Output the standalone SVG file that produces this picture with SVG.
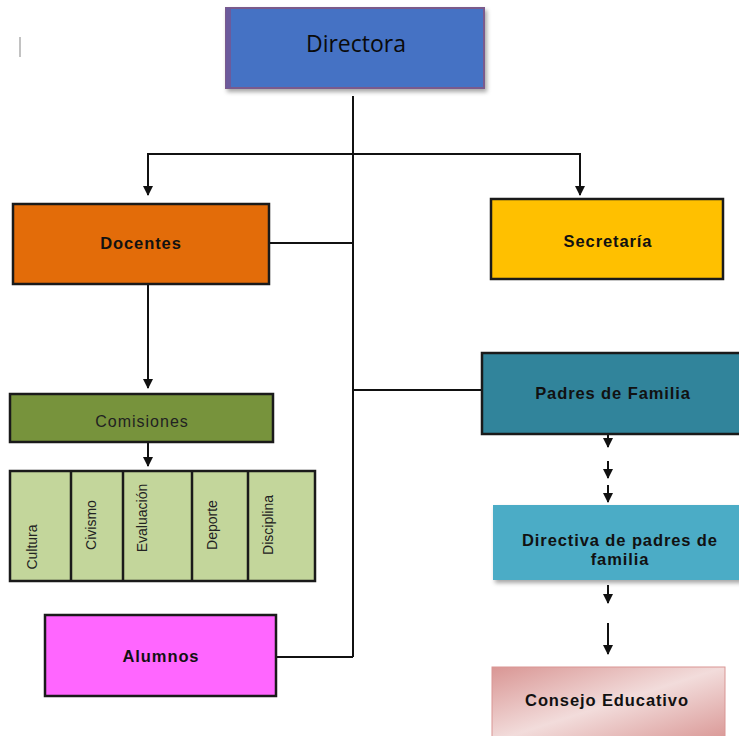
<svg xmlns="http://www.w3.org/2000/svg" width="739" height="736" viewBox="0 0 739 736">
<style>
.box{stroke:#1a1a1a;stroke-width:2.5}
.lbl{font-family:"Liberation Sans",Arial,sans-serif;font-weight:bold;font-size:16.5px;letter-spacing:0.9px;fill:#111;text-anchor:middle;dominant-baseline:central}
.vt{font-family:"Liberation Sans",Arial,sans-serif;font-size:14px;fill:#222;text-anchor:middle;dominant-baseline:central}
.ln{stroke:#111;stroke-width:2;fill:none}
</style>
<defs>
<marker id="ah" viewBox="0 0 10 10" refX="9" refY="5" markerWidth="5" markerHeight="5" orient="auto" markerUnits="strokeWidth">
<path d="M0,0 L10,5 L0,10 Z" fill="#111"/>
</marker>
<linearGradient id="pink" x1="0" y1="0" x2="1" y2="1">
<stop offset="0" stop-color="#D99694"/>
<stop offset="0.5" stop-color="#F2DCDB"/>
<stop offset="1" stop-color="#D99694"/>
</linearGradient>
<filter id="sh" x="-5%" y="-10%" width="115%" height="130%">
<feDropShadow dx="2" dy="3" stdDeviation="2" flood-color="#000" flood-opacity="0.35"/>
</filter>
</defs>

<line x1="20" y1="37" x2="20" y2="57" stroke="#999" stroke-width="1.2"/>

<g id="connectors">
<path class="ln" d="M353,96 V657" stroke-width="3"/>
<path class="ln" d="M148,195 V154 H580 V195" marker-end="url(#ah)"/>
<path class="ln" d="M148,154 V195" marker-end="url(#ah)"/>
<path class="ln" d="M269,243 H353"/>
<path class="ln" d="M353,390 H482"/>
<path class="ln" d="M276,657 H353"/>
<path class="ln" d="M148,284 V388" marker-end="url(#ah)"/>
<path class="ln" d="M148,442 V466" marker-end="url(#ah)"/>
<path class="ln" d="M608,435 V447" marker-end="url(#ah)"/>
<path class="ln" d="M608,461 V478" marker-end="url(#ah)"/>
<path class="ln" d="M608,485 V502" marker-end="url(#ah)"/>
<path class="ln" d="M608,585 V603" marker-end="url(#ah)"/>
<path class="ln" d="M608,623 V654" marker-end="url(#ah)"/>
</g>

<g id="directora">
<rect x="226" y="8" width="258" height="80" fill="#4472C4" stroke="#7A5A8C" stroke-width="2" filter="url(#sh)"/>
<rect x="226" y="8" width="5" height="80" fill="#6C5A9C"/>
<text x="356" y="43" font-family="'Open Sans','Liberation Sans',Arial,sans-serif" font-size="23" fill="#0a0a0a" text-anchor="middle" dominant-baseline="central">Directora</text>
</g>

<g id="docentes">
<rect class="box" x="13" y="204" width="256" height="80" fill="#E36C09"/>
<text class="lbl" x="141" y="243">Docentes</text>
</g>

<g id="secretaria">
<rect class="box" x="491" y="199" width="232" height="80" fill="#FFC000"/>
<text class="lbl" x="608" y="241">Secretaría</text>
</g>

<g id="comisiones">
<rect class="box" x="10" y="394" width="263" height="48" fill="#77933C"/>
<text x="142" y="421" font-family="'Liberation Sans',Arial,sans-serif" font-size="16" letter-spacing="1" fill="#222" text-anchor="middle" dominant-baseline="central">Comisiones</text>
</g>

<g id="comisiones-tabla">
<rect class="box" x="10" y="471" width="305" height="110" fill="#C3D69B"/>
<line class="box" x1="71" y1="471" x2="71" y2="581"/>
<line class="box" x1="123" y1="471" x2="123" y2="581"/>
<line class="box" x1="192" y1="471" x2="192" y2="581"/>
<line class="box" x1="248" y1="471" x2="248" y2="581"/>
<text class="vt" transform="translate(32,547) rotate(-90)">Cultura</text>
<text class="vt" transform="translate(91,525) rotate(-90)">Civismo</text>
<text class="vt" transform="translate(142,518) rotate(-90)">Evaluación</text>
<text class="vt" transform="translate(212,525) rotate(-90)">Deporte</text>
<text class="vt" transform="translate(268,525) rotate(-90)">Disciplina</text>
</g>

<g id="padres">
<rect class="box" x="482" y="353" width="260" height="81" fill="#31849B"/>
<text class="lbl" x="613" y="393">Padres de Familia</text>
</g>

<g id="directiva">
<rect x="493" y="505" width="250" height="75" fill="#4BACC6" filter="url(#sh)"/>
<text class="lbl" x="620" y="540">Directiva de padres de</text>
<text class="lbl" x="620" y="559">familia</text>
</g>

<g id="alumnos">
<rect class="box" x="45" y="615" width="231" height="81" fill="#FF66FF"/>
<text class="lbl" x="161" y="656">Alumnos</text>
</g>

<g id="consejo">
<rect x="492" y="667" width="233" height="75" fill="url(#pink)" stroke="#D99694" stroke-width="1"/>
<text class="lbl" x="607" y="700">Consejo Educativo</text>
</g>
</svg>
